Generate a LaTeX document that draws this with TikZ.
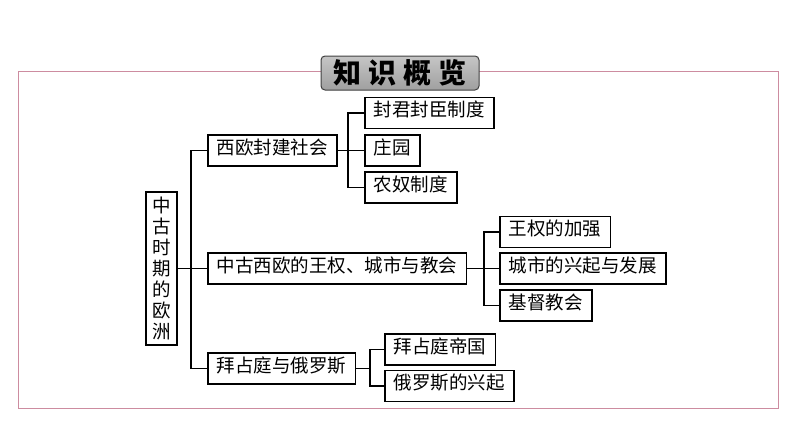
\documentclass[tikz,border=0pt]{standalone}
\usepackage{fontspec}
\newfontfamily\cjk{Noto Sans CJK SC}
\definecolor{framepink}{RGB}{205,140,160}
\tikzset{
  box/.style     = {shape=rectangle, draw, line width=1.8pt,
                    fill=white, inner xsep=9pt, inner ysep=0pt,
                    minimum height=31pt,
                    text height=0.86em, text depth=0.14em,
                    font=\cjk\fontsize{18.5}{18.5}\selectfont},
  topic/.style   = {box, anchor=west},
  leaf/.style    = {box, anchor=west},
  root/.style    = {box, align=center, inner xsep=0pt,
                    minimum width=31pt, minimum height=153pt,
                    text height=, text depth=,
                    font=\cjk\fontsize{18.5}{21}\selectfont},
  title/.style   = {shape=rectangle, rounded corners=4pt, draw=black!75,
                    line width=1pt, top color=gray!45, bottom color=gray!75,
                    minimum width=158pt, minimum height=34pt, inner sep=0pt,
                    font=\cjk\bfseries\fontsize{28}{28}\selectfont},
  link/.style    = {draw, line width=1.7pt}
}
\begin{document}
\begin{tikzpicture}[x=1pt, y=-1pt]
  \useasboundingbox (0,0) rectangle (794,447);
  % frame and title
  \draw [framepink, line width=0.9pt] (18,71) rectangle (778,408);
  \node [title] (kt) at (400,73) {知\hspace{7pt}识\hspace{7pt}概\hspace{7pt}览};

  % root
  \node [root] (zg) at (161.5,268.5) {中\\古\\时\\期\\的\\欧\\洲};

  % first level
  \node [topic] (xo) at (207,150.5) {西欧封建社会};
  \node [topic] (wq) at (207,268.5) {中古西欧的王权、城市与教会};
  \node [topic] (bz) at (207,368.5) {拜占庭与俄罗斯};

  % second level
  \node [leaf] (fj) at (364,113)   {封君封臣制度};
  \node [leaf] (zy) at (364,150.5) {庄园};
  \node [leaf] (nn) at (364,187.5) {农奴制度};
  \node [leaf] (wj) at (499,232)   {王权的加强};
  \node [leaf] (cs) at (499,268.5) {城市的兴起与发展};
  \node [leaf] (jd) at (499,305.5) {基督教会};
  \node [leaf] (bd) at (384,349.5) {拜占庭帝国};
  \node [leaf] (el) at (384,386)   {俄罗斯的兴起};

  % spines
  \coordinate (s0) at (191,0);
  \coordinate (s1) at (348,0);
  \coordinate (s2) at (484,0);
  \coordinate (s3) at (370,0);

  \draw [link] (zg.east) -- (zg.east -| s0);
  \draw [link] (xo.west) -- (xo.west -| s0) -- (bz.west -| s0) -- (bz.west);
  \draw [link] (wq.west) -- (wq.west -| s0);

  \draw [link] (xo.east) -- (xo.east -| s1);
  \draw [link] (fj.west) -- (fj.west -| s1) -- (nn.west -| s1) -- (nn.west);
  \draw [link] (zy.west) -- (zy.west -| s1);

  \draw [link] (wq.east) -- (wq.east -| s2);
  \draw [link] (wj.west) -- (wj.west -| s2) -- (jd.west -| s2) -- (jd.west);
  \draw [link] (cs.west) -- (cs.west -| s2);

  \draw [link] (bz.east) -- (bz.east -| s3);
  \draw [link] (bd.west) -- (bd.west -| s3) -- (el.west -| s3) -- (el.west);
\end{tikzpicture}
\end{document}
